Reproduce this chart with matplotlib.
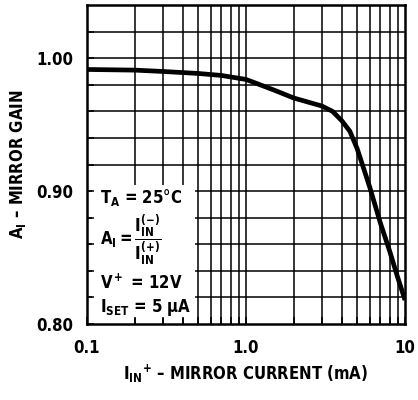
import numpy as np
import matplotlib
matplotlib.use("Agg")
import matplotlib.pyplot as plt
from matplotlib.patches import Rectangle

# mirror gain vs mirror current
current_ma = [0.1, 0.2, 0.3, 0.5, 0.7, 1.0, 1.5, 2.0, 3.0, 3.5, 4.0, 4.5, 5.0, 6.0, 7.0, 8.0, 9.0, 10.0]
gain = [0.9915, 0.991, 0.990, 0.9885, 0.987, 0.984, 0.976, 0.970, 0.964, 0.960, 0.953, 0.945, 0.932, 0.903, 0.876, 0.855, 0.835, 0.818]

xgrid = [0.2, 0.3, 0.4, 0.5, 0.6, 0.7, 0.8, 0.9, 1, 2, 3, 4, 5, 6, 7, 8, 9]
ygrid = [0.82, 0.84, 0.86, 0.88, 0.90, 0.92, 0.94, 0.96, 0.98, 1.00, 1.02]
xticks = [0.1, 1.0, 10]
xticklabels = ['0.1', '1.0', '10']
yticks = [0.80, 0.90, 1.00]
yticklabels = ['0.80', '0.90', '1.00']

plt.rcParams['font.family'] = ['DejaVu Sans']
plt.rcParams['font.stretch'] = 'condensed'
plt.rcParams['font.weight'] = 'bold'
plt.rcParams['axes.labelweight'] = 'bold'
plt.rcParams['mathtext.fontset'] = 'custom'
plt.rcParams['mathtext.rm'] = 'DejaVu Sans:bold:stretch=condensed'
plt.rcParams['mathtext.it'] = 'DejaVu Sans:bold:stretch=condensed'
plt.rcParams['mathtext.bf'] = 'DejaVu Sans:bold:stretch=condensed'

fig = plt.figure(figsize=(4.18, 4.0), dpi=100)
ax = fig.add_axes([0.2081, 0.19, 0.7608, 0.7975])
ax.set_xscale('log')
ax.set_xlim(0.1, 10)
ax.set_ylim(0.80, 1.04)

for gx in xgrid:
    ax.axvline(gx, color='black', lw=1.1, zorder=1)
for gy in ygrid:
    ax.axhline(gy, color='black', lw=1.1, zorder=1)

# white panel for the conditions text
ax.add_patch(Rectangle((0.016, 0.019), 0.324, 0.417, transform=ax.transAxes,
                       facecolor='white', edgecolor='none', zorder=2))

ax.plot(current_ma, gain, color='black', lw=3.4, zorder=4, solid_capstyle='butt')

ax.set_xticks(xticks)
ax.set_xticklabels(xticklabels)
ax.set_xticks(xgrid, minor=True)
ax.set_yticks(yticks)
ax.set_yticklabels(yticklabels)
ax.set_yticks(ygrid, minor=True)
ax.tick_params(which='both', direction='in', length=5, width=1.1, labelsize=12, pad=10)
ax.tick_params(axis='x', pad=11)
ax.xaxis.set_zorder(3)
ax.yaxis.set_zorder(3)
for s in ax.spines.values():
    s.set_linewidth(1.8)
    s.set_zorder(5)

ax.set_xlabel(r'$\mathrm{I_{IN}}^{\mathrm{+}}$ – MIRROR CURRENT (mA)', fontsize=12, labelpad=4)
ax.set_ylabel(r'$\mathrm{A_I}$ – MIRROR GAIN', fontsize=12, labelpad=6)

tkw = dict(transform=ax.transAxes, fontsize=12, va='center', ha='left', zorder=6)
ax.text(0.04, 0.395, r'$\mathrm{T_A}$ = 25°C', **tkw)
ax.text(0.04, 0.263, r'$\mathrm{A_I} = \dfrac{\mathrm{I_{IN}^{(-)}}}{\mathrm{I_{IN}^{(+)}}}$', **tkw)
ax.text(0.04, 0.128, r'$\mathrm{V^+}$ = 12V', **tkw)
ax.text(0.04, 0.053, r'$\mathrm{I_{SET}}$ = 5 $\mu$A', **tkw)

fig.savefig('out.png', dpi=100)
